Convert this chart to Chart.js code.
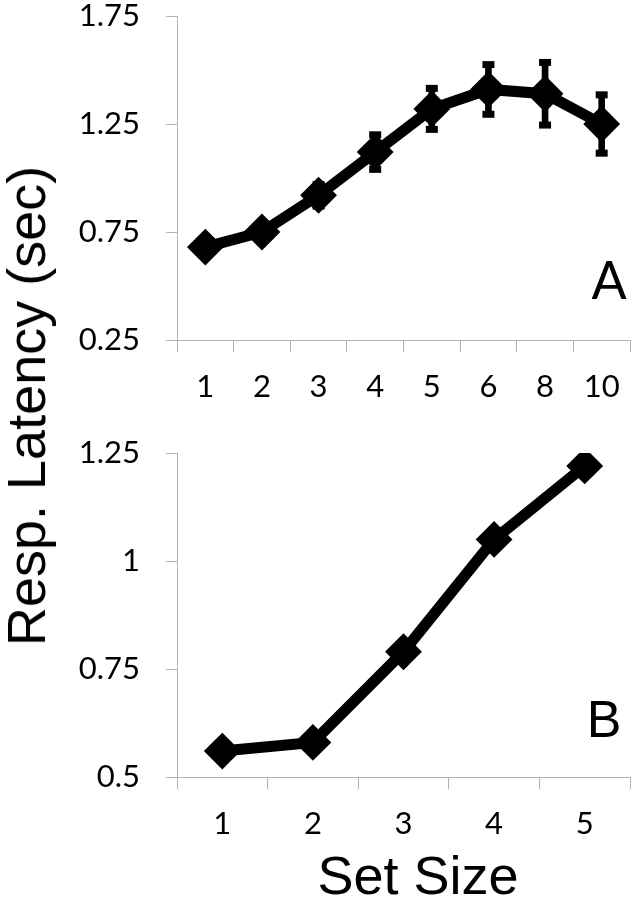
<!DOCTYPE html>
<html lang="en">
<head>
    <meta charset="UTF-8">
    <title>Resp. Latency by Set Size</title>
    <script src="https://cdn.jsdelivr.net/npm/chart.js"></script>
    <style>
        body {
            margin: 0;
            background: #fff;
        }
        #wrap {
            position: relative;
            width: 634px;
            height: 900px;
            overflow: hidden;
        }
        canvas {
            position: absolute;
            left: 0;
        }
        .txt {
            position: absolute;
            line-height: 1;
            white-space: nowrap;
            color: #000;
        }
        .arial {
            font-family: "Liberation Sans", Arial, sans-serif;
        }
    </style>
</head>
<body>
<div id="wrap">
    <canvas id="chartA" width="634" height="410" style="top:0"></canvas>
    <canvas id="chartB" width="634" height="427" style="top:420px"></canvas>

    <div class="txt arial" style="font-size:54px;left:26px;top:406px;transform:translate(-50%,-50%) rotate(-90deg)">Resp. Latency (sec)</div>
    <div class="txt arial" style="font-size:54px;left:418px;top:848px;transform:translateX(-50%)">Set Size</div>
    <div class="txt" style="font-family:Lato,sans-serif;font-size:52px;left:609px;top:253px;transform:translateX(-50%)">A</div>
    <div class="txt arial" style="font-size:52px;left:604px;top:693px;transform:translateX(-50%)">B</div>
</div>

<script>
    // panel A
    const setSizesA = ['1', '2', '3', '4', '5', '6', '8', '10'];
    const latencyA = [0.68, 0.75, 0.92, 1.12, 1.32, 1.41, 1.39, 1.25];
    const errorA = [0.03, 0.03, 0.05, 0.08, 0.095, 0.115, 0.145, 0.135];
    const yTicksA = [0.25, 0.75, 1.25, 1.75];

    // panel B
    const setSizesB = ['1', '2', '3', '4', '5'];
    const latencyB = [0.56, 0.58, 0.79, 1.05, 1.22];
    const yTicksB = [0.5, 0.75, 1, 1.25];

    const axisGrey = '#b3b3b3';
    const tickFont = { family: 'Lato', size: 31 };

    function makeChart(id, labels, values, errors, yTicks, padTop) {
        const datasets = [{
            type: 'line',
            data: values,
            borderColor: '#000',
            backgroundColor: '#000',
            borderWidth: 11,
            tension: 0,
            pointStyle: 'rectRot',
            pointRadius: 17,
            pointBorderWidth: 2,
            pointBorderColor: '#000',
            pointBackgroundColor: '#000',
            order: 2
        }];

        if (errors) {
            // stems
            datasets.push({
                type: 'bar',
                data: values.map((v, i) => [v - errors[i], v + errors[i]]),
                backgroundColor: '#000',
                barThickness: 6,
                order: 1
            });
            // caps
            [1, -1].forEach(sign => {
                datasets.push({
                    type: 'line',
                    data: values.map((v, i) => v + sign * errors[i]),
                    showLine: false,
                    pointStyle: 'line',
                    pointRadius: 6,
                    pointBorderWidth: 7,
                    pointBorderColor: '#000',
                    order: 0
                });
            });
        }

        return new Chart(document.getElementById(id), {
            type: 'bar',
            data: { labels: labels, datasets: datasets },
            options: {
                responsive: false,
                animation: false,
                layout: { autoPadding: false, padding: { top: padTop, right: 4, left: 0, bottom: 0 } },
                plugins: {
                    legend: { display: false },
                    tooltip: { enabled: false }
                },
                scales: {
                    x: {
                        offset: true,
                        grid: { offset: true, drawOnChartArea: false, tickLength: 12, color: axisGrey },
                        border: { color: axisGrey },
                        ticks: { color: '#000', font: tickFont, padding: 16, maxRotation: 0 },
                        afterFit: s => { s.height = 70; s.paddingLeft = 0; s.paddingRight = 0; }
                    },
                    y: {
                        min: yTicks[0],
                        max: yTicks[yTicks.length - 1],
                        afterBuildTicks: s => { s.ticks = yTicks.map(v => ({ value: v })); },
                        grid: { drawOnChartArea: false, tickLength: 11, color: axisGrey },
                        border: { color: axisGrey },
                        ticks: { color: '#000', font: tickFont, padding: 26, callback: v => String(v) },
                        afterFit: s => { s.width = 177; s.paddingTop = 0; s.paddingBottom = 0; }
                    }
                }
            }
        });
    }

    makeChart('chartA', setSizesA, latencyA, errorA, yTicksA, 16);
    makeChart('chartB', setSizesB, latencyB, null, yTicksB, 33);
</script>
</body>
</html>
